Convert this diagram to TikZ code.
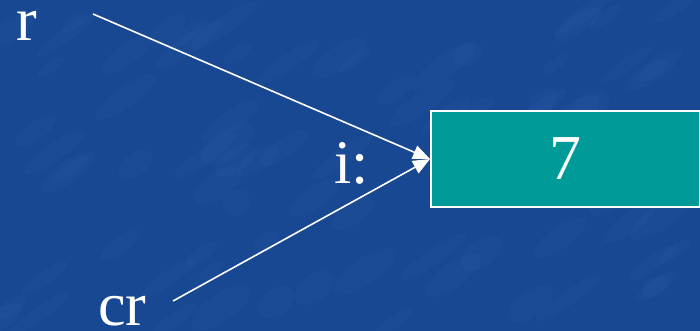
\documentclass[tikz,border=0pt]{standalone}
\usepackage{fontspec}
\setmainfont{Liberation Serif}
\usetikzlibrary{arrows.meta}
\definecolor{slidebg}{RGB}{24,72,146}
\definecolor{slidelight}{RGB}{70,120,190}
\definecolor{cellfill}{RGB}{0,155,153}
\tikzset{
  label text/.style={text=white, font=\fontsize{62}{62}\selectfont, inner sep=0pt},
  cell/.style={draw=white, line width=1.6pt, fill=cellfill, minimum width=269pt,
    minimum height=96pt, inner sep=0pt, text=white, font=\fontsize{64}{64}\selectfont},
  ref/.style={draw=white, fill=white, line width=1.6pt,
    -{Triangle[length=17pt,width=14pt]}},
  streak/.style={fill=slidelight, opacity=0.07}
}
\begin{document}
\begin{tikzpicture}[x=1pt,y=1pt]
  \fill[slidebg] (0,0) rectangle (700,331);
  \useasboundingbox (0,0) rectangle (700,331);
  % soft mottled texture of the slide background
  \begin{scope}
    \clip (0,0) rectangle (700,331);
    \pgfmathsetseed{4711}
    \foreach \k in {1,...,90}{
      \pgfmathsetmacro{\px}{700*rnd}
      \pgfmathsetmacro{\py}{331*rnd}
      \pgfmathsetmacro{\ra}{14+26*rnd}
      \pgfmathsetmacro{\rb}{5+9*rnd}
      \fill[streak, rotate around={35:(\px,\py)}] (\px,\py) ellipse ({\ra} and {\rb});
    }
  \end{scope}
  % the memory cell holding the value
  \node[cell, anchor=west] (box) at (430,172) {7};
  % names and labels
  \node[label text, anchor=base west] (r) at (16,290) {r};
  \node[label text, anchor=base west] (cr) at (98,5) {cr};
  \node[label text, anchor=base west] (i) at (334,147) {i:};
  % reference arrows
  \coordinate (rstart) at (93,317);
  \coordinate (crstart) at (173,30);
  \draw[ref] (rstart) -- (box.west);
  \draw[ref] (crstart) -- (box.west);
\end{tikzpicture}
\end{document}
